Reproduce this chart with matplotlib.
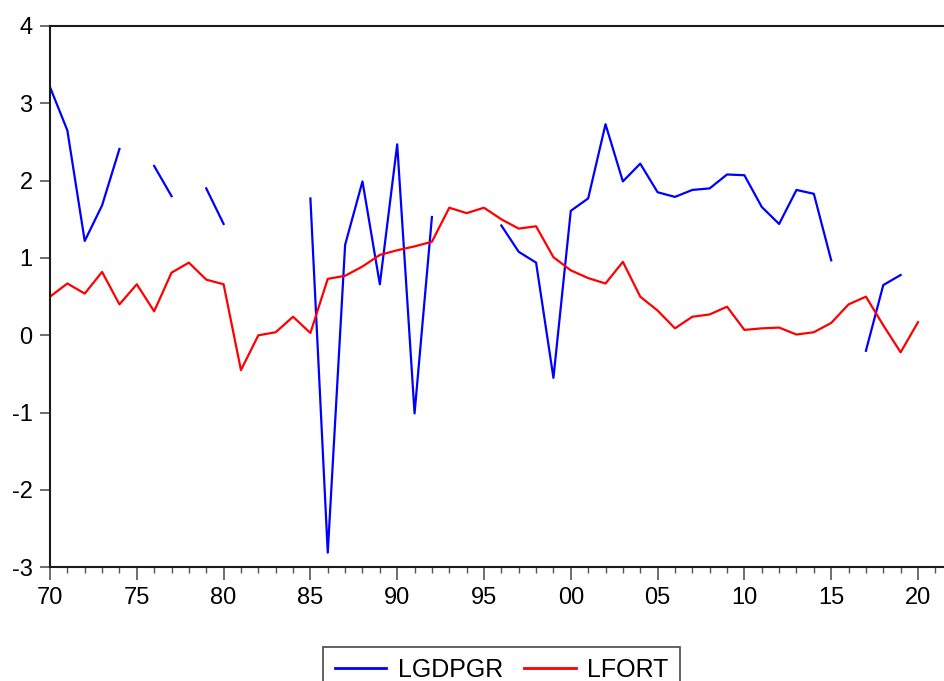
import numpy as np
import matplotlib
matplotlib.use("Agg")
import matplotlib.pyplot as plt
from matplotlib.ticker import MultipleLocator, FuncFormatter

plt.rcParams['font.family'] = ['Liberation Sans', 'DejaVu Sans']

nan = np.nan
years = list(range(1970, 2021))
lgdpgr = [3.21, 2.65, 1.22, 1.68, 2.41, nan, 2.19, 1.80, nan, 1.90,
          1.44, nan, nan, nan, nan, 1.77, -2.81, 1.17, 1.99, 0.66,
          2.47, -1.01, 1.53, nan, nan, nan, 1.42, 1.08, 0.94, -0.55,
          1.61, 1.77, 2.73, 1.99, 2.22, 1.85, 1.79, 1.88, 1.90, 2.08,
          2.07, 1.66, 1.44, 1.88, 1.83, 0.97, nan, -0.20, 0.65, 0.78,
          nan]
lfort = [0.50, 0.67, 0.54, 0.82, 0.40, 0.66, 0.31, 0.81, 0.94, 0.72,
         0.66, -0.45, 0.00, 0.04, 0.24, 0.03, 0.73, 0.77, 0.89, 1.04,
         1.10, 1.15, 1.21, 1.65, 1.58, 1.65, 1.50, 1.38, 1.41, 1.01,
         0.84, 0.74, 0.67, 0.95, 0.50, 0.32, 0.09, 0.24, 0.27, 0.37,
         0.07, 0.09, 0.10, 0.01, 0.04, 0.16, 0.40, 0.50, 0.13, -0.22,
         0.17]
series_names = ["LGDPGR", "LFORT"]
series_colors = ["#0000ff", "#ff0000"]

W, H = 944, 681
fig = plt.figure(figsize=(W / 100, H / 100), dpi=100)
left, right = 50 / W, 1.0
bottom, top = 1 - 567.3 / H, 1 - 26 / H
ax = fig.add_axes([left, bottom, right - left, top - bottom])

ax.plot(years, lgdpgr, color=series_colors[0], lw=1.6, label=series_names[0])
ax.plot(years, lfort, color=series_colors[1], lw=1.6, label=series_names[1])

ax.set_xlim(1970, 1970 + (W - 50) / 17.36)
ax.set_ylim(-3, 4)
ax.xaxis.set_major_locator(MultipleLocator(5))
ax.xaxis.set_minor_locator(MultipleLocator(1))
ax.xaxis.set_major_formatter(FuncFormatter(lambda v, p: "%02d" % (int(round(v)) % 100)))
ax.yaxis.set_major_locator(MultipleLocator(1))
ax.yaxis.set_major_formatter(FuncFormatter(lambda v, p: "%d" % int(round(v))))

ax.tick_params(axis='x', which='major', direction='out', length=9, width=1.2,
               color='#555555', labelsize=17, pad=5)
ax.tick_params(axis='x', which='minor', direction='out', length=4.5, width=1.0,
               color='#555555')
ax.tick_params(axis='y', which='major', direction='out', length=7.5, width=1.2,
               color='#555555', labelsize=17, pad=5)

for s in ['left', 'bottom', 'top']:
    ax.spines[s].set_linewidth(1.5)
    ax.spines[s].set_color('#1a1a1a')
ax.spines['right'].set_visible(False)

leg = fig.legend(loc='upper center', bbox_to_anchor=(501.8 / W, 1 - 646.7 / H),
                 ncol=2, fontsize=18, frameon=True, fancybox=False,
                 handlelength=2.05, handletextpad=0.47, columnspacing=0.86,
                 borderpad=0.45, borderaxespad=0.0)
leg.get_frame().set_edgecolor('#1a1a1a')
leg.get_frame().set_linewidth(1.2)
for h in leg.get_lines():
    h.set_linewidth(2.0)

fig.savefig("out.png", dpi=100)
